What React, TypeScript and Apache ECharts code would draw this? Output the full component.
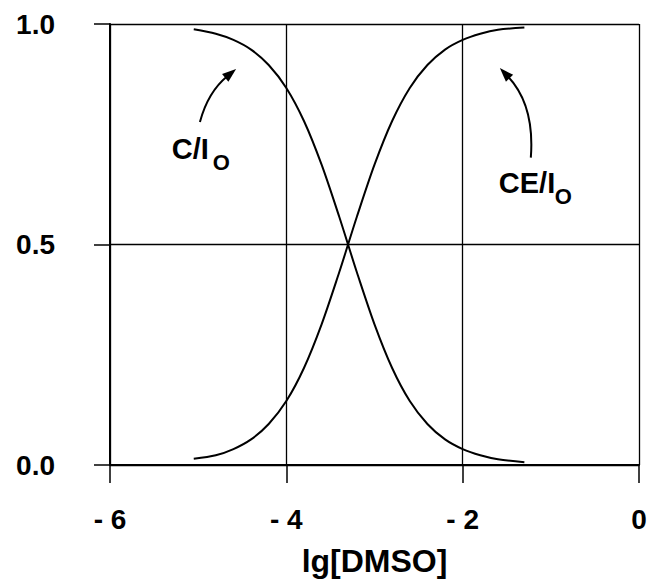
import React, { useEffect, useRef } from "react";
import * as echarts from "echarts";

// lg[DMSO] sample positions
const xVals = [-5.05, -4.8, -4.6, -4.4, -4.2, -4.0, -3.8, -3.6, -3.4, -3.3, -3.2, -3.0, -2.8, -2.6, -2.4, -2.2, -2.0, -1.8, -1.6, -1.3];
// C/Io (decreasing curve)
const cOverIo = [0.988, 0.978, 0.964, 0.942, 0.907, 0.855, 0.78, 0.681, 0.563, 0.5, 0.437, 0.319, 0.22, 0.145, 0.093, 0.058, 0.036, 0.022, 0.013, 0.006];
// CE/Io (increasing curve)
const ceOverIo = [0.014, 0.022, 0.036, 0.058, 0.093, 0.145, 0.22, 0.319, 0.437, 0.5, 0.563, 0.681, 0.78, 0.855, 0.907, 0.942, 0.964, 0.978, 0.987, 0.992];

const xTicks = [-6, -4, -2, 0];
const yTicks = [0, 0.5, 1.0];

// annotation anchors in data coordinates: [start, control, end] of arrow, text anchor
const cArrow = [[-4.98, 0.778], [-4.889, 0.846], [-4.57, 0.898]];
const ceArrow = [[-1.227, 0.697], [-1.181, 0.817], [-1.578, 0.9]];
const cLabelAnchor = [-5.3, 0.716];
const ceLabelAnchor = [-1.59, 0.639];

const FONT = '"Liberation Sans", Arial, Helvetica, sans-serif';

export default function App() {
  const ref = useRef<HTMLDivElement>(null);
  useEffect(() => {
    document.body.style.margin = "0";
    const chart = echarts.init(ref.current!, undefined, { renderer: "svg" });
    chart.setOption({
      animation: false,
      backgroundColor: "#ffffff",
      grid: { left: 110, right: 11, top: 24, bottom: 116 },
      xAxis: {
        type: "value",
        min: -6,
        max: 0,
        interval: 2,
        name: "lg[DMSO]",
        nameLocation: "middle",
        nameGap: 80,
        nameTextStyle: { fontFamily: FONT, fontWeight: "bold", fontSize: 32, color: "#000" },
        axisLine: { show: true, onZero: false, lineStyle: { color: "#000", width: 2 } },
        axisTick: { show: true, length: 18, lineStyle: { color: "#000", width: 1.5 } },
        axisLabel: {
          margin: 40,
          fontFamily: FONT,
          fontWeight: "bold",
          fontSize: 28,
          color: "#000",
          formatter: (v: number) => (xTicks.includes(v) ? (v === 0 ? "0" : "- " + Math.abs(v)) : ""),
        },
        splitLine: { show: true, lineStyle: { color: "#000", width: 1.3 } },
      },
      yAxis: {
        type: "value",
        min: 0,
        max: 1,
        interval: 0.5,
        axisLine: { show: true, onZero: false, lineStyle: { color: "#000", width: 2 } },
        axisTick: { show: true, length: 16, lineStyle: { color: "#000", width: 1.5 } },
        axisLabel: {
          margin: 55,
          fontFamily: FONT,
          fontWeight: "bold",
          fontSize: 28,
          color: "#000",
          formatter: (v: number) => (yTicks.includes(v) ? v.toFixed(1) : ""),
        },
        splitLine: { show: true, lineStyle: { color: "#000", width: 1.3 } },
      },
      series: [
        {
          type: "line",
          name: "C/Io",
          data: xVals.map((x, i) => [x, cOverIo[i]]),
          smooth: 0.3,
          symbol: "none",
          lineStyle: { color: "#000", width: 2 },
        },
        {
          type: "line",
          name: "CE/Io",
          data: xVals.map((x, i) => [x, ceOverIo[i]]),
          smooth: 0.3,
          symbol: "none",
          lineStyle: { color: "#000", width: 2 },
        },
      ],
    });

    const px = (p: number[]) => chart.convertToPixel({ xAxisIndex: 0, yAxisIndex: 0 }, p) as number[];
    const arrow = (pts: number[][]) => {
      const [s, c, e] = pts.map(px);
      const dx = e[0] - c[0];
      const dy = e[1] - c[1];
      const len = Math.hypot(dx, dy) || 1;
      const ux = dx / len;
      const uy = dy / len;
      const hl = 14;
      const hw = 5;
      const bx = e[0] - ux * hl;
      const by = e[1] - uy * hl;
      return [
        {
          type: "bezierCurve",
          shape: { x1: s[0], y1: s[1], cpx1: c[0], cpy1: c[1], x2: bx + ux * 3, y2: by + uy * 3 },
          style: { stroke: "#000", lineWidth: 2, fill: "none" },
          z: 10,
        },
        {
          type: "polygon",
          shape: {
            points: [
              [e[0], e[1]],
              [bx - uy * hw, by + ux * hw],
              [bx + uy * hw, by - ux * hw],
            ],
          },
          style: { fill: "#000" },
          z: 10,
        },
      ];
    };
    const label = (anchor: number[], main: string, subOffset: number) => {
      const a = px(anchor);
      return [
        {
          type: "text",
          x: a[0],
          y: a[1],
          style: {
            text: main,
            fontFamily: FONT,
            fontWeight: "bold",
            fontSize: 29,
            fill: "#000",
            verticalAlign: "middle",
            align: "left",
          },
          z: 10,
        },
        {
          type: "text",
          x: a[0] + subOffset,
          y: a[1] + 13,
          style: {
            text: "O",
            fontFamily: FONT,
            fontWeight: "bold",
            fontSize: 22,
            fill: "#000",
            verticalAlign: "middle",
            align: "left",
          },
          z: 10,
        },
      ];
    };
    chart.setOption({
      graphic: [
        ...arrow(cArrow),
        ...arrow(ceArrow),
        ...label(cLabelAnchor, "C/I", 41),
        ...label(ceLabelAnchor, "CE/I", 56),
      ],
    });
    return () => chart.dispose();
  }, []);
  return <div ref={ref} style={{ width: 650, height: 582 }} />;
}
